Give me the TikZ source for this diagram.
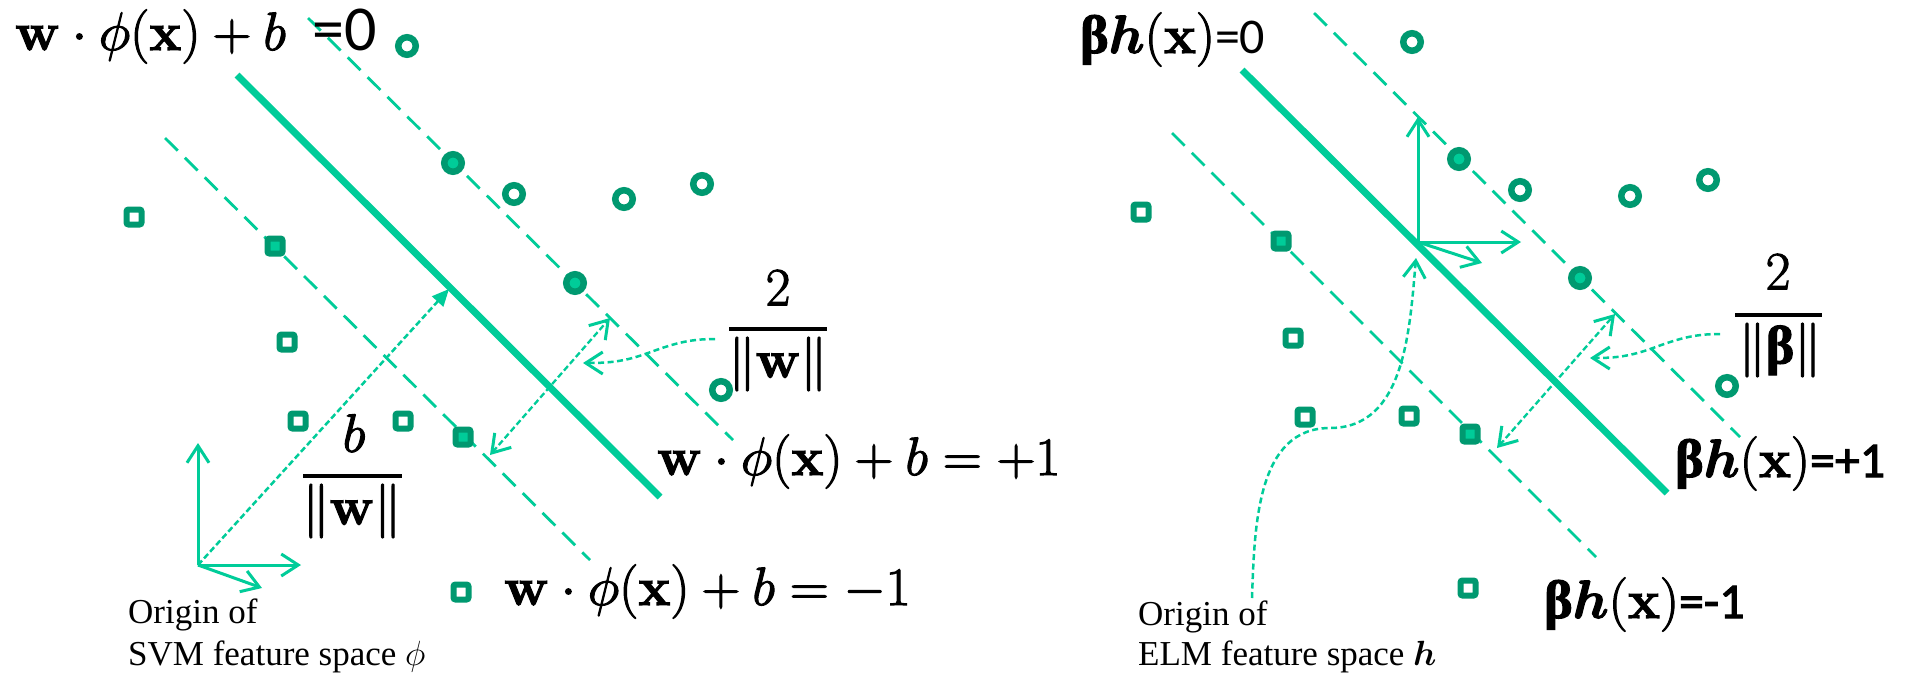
\RequirePackage{fix-cm}
\documentclass[tikz,border=0pt]{standalone}
\usepackage{amsmath,amssymb}
\usepackage[no-math]{fontspec}
\usetikzlibrary{arrows.meta}
\newfontfamily\tnr{Liberation Serif}
\newfontfamily\carl{Carlito}
\definecolor{lineg}{RGB}{0,204,153}
\definecolor{markg}{RGB}{0,153,112}
\newcommand{\msz}{\fontsize{54}{60}\selectfont}
\newcommand{\csz}{\fontsize{50}{56}\selectfont}
\newcommand{\tsz}{\fontsize{35}{42}\selectfont}
\newcommand{\bbeta}{{\tnr\bfseries β}}
\newcommand{\heavy}[1]{\special{pdf:literal direct 2 Tr 1.1 w}#1\special{pdf:literal direct 0 Tr}}
\tikzset{
  hyper/.style={draw=lineg, line width=7pt},
  marginline/.style={draw=lineg, line width=2.8pt, dash pattern=on 18pt off 10pt},
  barb/.tip={Straight Barb[length=17pt,width=22pt,line width=3pt]},
  vec/.style={draw=lineg, line width=3pt, -barb},
  dimarrow/.style={draw=lineg, line width=2.3pt, dash pattern=on 6pt off 3pt, barb-barb},
  pointer/.style={draw=lineg, line width=2.5pt, dash pattern=on 6pt off 3.5pt, -barb},
  normalarrow/.style={draw=lineg, line width=2.5pt, dash pattern=on 6pt off 3pt, -{Triangle[length=17pt,width=15pt]}},
  posm/.style={circle, draw=markg, line width=6.5pt, minimum size=17.5pt, inner sep=0pt},
  posv/.style={posm, fill=lineg},
  negm/.style={rectangle, rounded corners=2pt, draw=markg, line width=6pt, minimum size=15pt, inner sep=0pt},
  negv/.style={negm, fill=lineg},
  lbl/.style={inner sep=0pt, anchor=base west, font=\msz},
  frac/.style={inner sep=0pt, font=\msz},
  fbar/.style={draw=black, line width=4pt},
  orig/.style={inner sep=0pt, anchor=base west, font=\tsz\tnr},
}
\begin{document}
\begin{tikzpicture}[x=1pt,y=-1pt]
\useasboundingbox[fill=white] (0,0) rectangle (1910,673);

% ---------------- left panel (SVM) ----------------
\coordinate (Lh0s) at (237,75);  \coordinate (Lh0e) at (660,497);
\coordinate (Lhps) at (308,18);  \coordinate (Lhpe) at (733,440);
\coordinate (Lhms) at (165,138); \coordinate (Lhme) at (590,560);
\draw[hyper] (Lh0s) -- (Lh0e);
\draw[marginline] (Lhps) -- (Lhpe);
\draw[marginline] (Lhms) -- (Lhme);

\foreach \x/\y [count=\i] in {407/46,514/194,624/199,702/184,721/390}
  \node[posm] (Lp\i) at (\x,\y) {};
\foreach \x/\y [count=\i] in {453/163,575/283}
  \node[posv] (Lsp\i) at (\x,\y) {};
\foreach \x/\y [count=\i] in {134/217,287/342,298/421,403/421,461/592}
  \node[negm] (Ln\i) at (\x,\y) {};
\foreach \x/\y [count=\i] in {275/246,463/437}
  \node[negv] (Lsn\i) at (\x,\y) {};

% origin axes
\coordinate (Lo) at (198,565);
\coordinate (Loy) at (198,443);
\coordinate (Lox) at (301,565);
\coordinate (Lod) at (262,588);
\draw[vec] (Lo) -- (Loy);
\draw[vec] (Lo) -- (Lox);
\draw[vec] (Lo) -- (Lod);
\coordinate (Lfoot) at (449,289);
\draw[normalarrow] (Lo) -- (Lfoot);

% margin width
\coordinate (Ldp) at (610,318);
\coordinate (Ldm) at (490,455);
\draw[dimarrow] (Ldm) -- (Ldp);
\coordinate (Lcs) at (715,339);
\coordinate (Lcm) at (648,353);
\coordinate (Lce) at (583,363);
\draw[pointer] (Lcs) to[out=180,in=20] (Lcm) to[out=200,in=0] (Lce);

% labels
\node[lbl] (Ltitle) at (15,50) {\heavy{$\mathbf{w}\cdot\phi(\mathbf{x})+b$}\hspace{27pt}{\fontsize{64}{66}\selectfont\carl =0}};
\node[lbl] (Lplus) at (657,475) {\heavy{$\mathbf{w}\cdot\phi(\mathbf{x})+b=+1$}};
\node[lbl] (Lminus) at (504,605) {\heavy{$\mathbf{w}\cdot\phi(\mathbf{x})+b=-1$}};

\node[frac] (Ltwo) at (778,288) {\heavy{$2$}};
\node[frac] (Lnw) at (778,364) {\heavy{$\|\mathbf{w}\|$}};
\draw[fbar] (729,329) -- (827,329);

\node[frac] (Lb) at (354,433) {\heavy{$b$}};
\node[frac] (Lnw2) at (352,511) {\heavy{$\|\mathbf{w}\|$}};
\draw[fbar] (303,476) -- (402,476);

\node[orig] (Lt1) at (128,623) {Origin of};
\node[orig] (Lt2) at (128,665) {SVM feature space $\phi$};

% ---------------- right panel (ELM) ----------------
\coordinate (Rh0s) at (1242,70);  \coordinate (Rh0e) at (1667,493);
\coordinate (Rhps) at (1314,13);  \coordinate (Rhpe) at (1740,437);
\coordinate (Rhms) at (1172,133); \coordinate (Rhme) at (1596,557);
\draw[hyper] (Rh0s) -- (Rh0e);
\draw[marginline] (Rhps) -- (Rhpe);
\draw[marginline] (Rhms) -- (Rhme);

\foreach \x/\y [count=\i] in {1412/42,1520/190,1630/196,1708/180,1727/386}
  \node[posm] (Rp\i) at (\x,\y) {};
\foreach \x/\y [count=\i] in {1459/159,1580/278}
  \node[posv] (Rsp\i) at (\x,\y) {};
\foreach \x/\y [count=\i] in {1141/212,1293/338,1305/417,1409/416,1468/588}
  \node[negm] (Rn\i) at (\x,\y) {};
\foreach \x/\y [count=\i] in {1281/241,1470/434}
  \node[negv] (Rsn\i) at (\x,\y) {};

\coordinate (Ro) at (1418,242);
\coordinate (Roy) at (1418,117);
\coordinate (Rox) at (1521,242);
\coordinate (Rod) at (1482,263);
\draw[vec] (Ro) -- (Roy);
\draw[vec] (Ro) -- (Rox);
\draw[vec] (Ro) -- (Rod);

\coordinate (Rdp) at (1615,314);
\coordinate (Rdm) at (1497,448);
\draw[dimarrow] (Rdm) -- (Rdp);
\coordinate (Rcs) at (1720,334);
\coordinate (Rcm) at (1653,348);
\coordinate (Rce) at (1590,358);
\draw[pointer] (Rcs) to[out=180,in=20] (Rcm) to[out=200,in=0] (Rce);

\coordinate (Rts) at (1252,598);
\coordinate (Rtm) at (1330,428);
\coordinate (Rte) at (1416,258);
\draw[pointer] (Rts) to[out=88,in=180] (Rtm) to[out=0,in=265] (Rte);

\node[lbl] (Rtitle) at (1080,53) {\heavy{\bbeta$\boldsymbol{h}(\mathbf{x})$}{\csz\carl =0}};
\node[lbl] (Rplus) at (1675,477) {\heavy{\bbeta$\boldsymbol{h}(\mathbf{x})${\csz\carl =+1}}};
\node[lbl] (Rminus) at (1544,618) {\heavy{\bbeta$\boldsymbol{h}(\mathbf{x})${\csz\carl =-1}}};

\node[frac] (Rtwo) at (1778,272) {\heavy{$2$}};
\node[frac] (Rnb) at (1780,350) {\heavy{$\|$\bbeta$\|$}};
\draw[fbar] (1735,315) -- (1822,315);

\node[orig] (Rt1) at (1138,625) {Origin of};
\node[orig] (Rt2) at (1138,665) {ELM feature space $\boldsymbol{h}$};
\end{tikzpicture}
\end{document}
